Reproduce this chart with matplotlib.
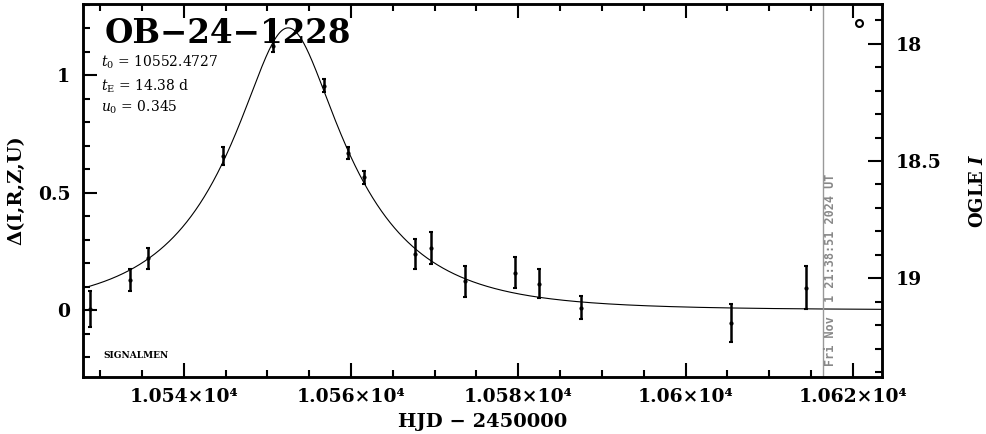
import numpy as np
import matplotlib
matplotlib.use("Agg")
import matplotlib.pyplot as plt
from matplotlib.ticker import MultipleLocator, FuncFormatter

# event / fit parameters as printed on the chart
event_name = "OB\u221224\u22121228"
t0 = 10552.4727
tE = 14.38
u0 = 0.345
I_base = 19.135

# OGLE points: HJD-2450000, delta mag, error
hjd = [10528.8, 10533.5, 10535.7, 10544.7, 10550.6, 10556.7, 10559.6, 10561.6,
       10567.6, 10569.6, 10573.6, 10579.6, 10582.5, 10587.5, 10605.5, 10614.4]
dmag = [0.005, 0.128, 0.22, 0.656, 1.125, 0.955, 0.669, 0.566,
        0.24, 0.265, 0.122, 0.159, 0.113, 0.01, -0.054, 0.095]
dmag_err = [0.076, 0.047, 0.045, 0.039, 0.025, 0.028, 0.027, 0.028,
            0.064, 0.067, 0.065, 0.066, 0.06, 0.049, 0.08, 0.092]

now_hjd = 10616.4
now_label = "Fri Nov  1 21:38:51 2024 UT"
flag_hjd = 10620.7
flag_dmag = 1.223


def pacz_dmag(t):
  u = np.sqrt(u0**2 + ((t - t0) / tE)**2)
  A = (u**2 + 2) / (u * np.sqrt(u**2 + 4))
  return 2.5 * np.log10(A)


def main():
  plt.rcParams['font.family'] = ['DejaVu Serif']
  plt.rcParams['font.weight'] = 'bold'
  plt.rcParams['axes.labelweight'] = 'bold'
  # plain (non-bold) math for the fit parameters
  plt.rcParams['mathtext.fontset'] = 'custom'
  plt.rcParams['mathtext.rm'] = 'DejaVu Serif:weight=normal'
  plt.rcParams['mathtext.it'] = 'DejaVu Serif:italic:weight=normal'
  plt.rcParams['mathtext.bf'] = 'DejaVu Serif:weight=bold'

  fig = plt.figure(figsize=(9.86, 4.34), dpi=100)
  ax = fig.add_axes([0.0839, 0.132, 0.8106, 0.8588])

  xlo, xhi = 10527.9, 10623.5
  ylo, yhi = -0.284, 1.304

  tt = np.linspace(xlo, xhi, 2000)
  ax.plot(tt, pacz_dmag(tt), color='k', lw=0.8)

  ax.errorbar(hjd, dmag, yerr=dmag_err, fmt='o', ms=2, color='k',
              elinewidth=1.8, capsize=1.5, capthick=1.5)

  ax.plot([flag_hjd], [flag_dmag], 'o', mfc='white', mec='k', mew=1.5, ms=5)

  ax.axvline(now_hjd, color='#999999', lw=1.0)
  ax.text(now_hjd + 1.0, 0.029, now_label, transform=ax.get_xaxis_transform(),
          rotation=90, ha='center', va='bottom', color='#888888',
          fontsize=8.5, family='DejaVu Sans Mono', fontweight='bold')

  ax.set_xlim(xlo, xhi)
  ax.set_ylim(ylo, yhi)

  ax.xaxis.set_major_locator(MultipleLocator(20))
  ax.xaxis.set_minor_locator(MultipleLocator(5))
  ax.xaxis.set_major_formatter(FuncFormatter(lambda v, p: "%g\u00d710\u2074" % (v / 1e4)))
  ax.yaxis.set_major_locator(MultipleLocator(0.5))
  ax.yaxis.set_minor_locator(MultipleLocator(0.1))
  ax.yaxis.set_major_formatter(FuncFormatter(lambda v, p: "%g" % v))

  ax.tick_params(which='both', direction='in', top=True, right=False, labelsize=13.5)
  ax.tick_params(which='major', length=10, width=1.5)
  ax.tick_params(which='minor', length=5, width=1.5)
  ax.tick_params(axis='y', pad=9)
  ax.tick_params(axis='x', pad=8)
  for s in ax.spines.values():
    s.set_linewidth(1.8)

  ax.set_xlabel("HJD \u2212 2450000", fontsize=14, labelpad=5)
  ax.set_ylabel("\u0394(I,R,Z,U)", fontsize=14, labelpad=9)

  ax2 = ax.twinx()
  ax2.set_ylim(I_base - ylo, I_base - yhi)
  ax2.yaxis.set_major_locator(MultipleLocator(0.5))
  ax2.yaxis.set_minor_locator(MultipleLocator(0.1))
  ax2.yaxis.set_major_formatter(FuncFormatter(lambda v, p: "%g" % v))
  ax2.tick_params(which='both', direction='in', labelsize=13.5, pad=10)
  ax2.tick_params(which='major', length=10, width=1.5)
  ax2.tick_params(which='minor', length=5, width=1.5)
  ax2.set_ylabel(r"OGLE $I$", fontsize=13, labelpad=20, math_fontfamily='dejavuserif')
  for s in ax2.spines.values():
    s.set_linewidth(1.8)

  ax.text(0.027, 0.895, event_name, transform=ax.transAxes, fontsize=23.5,
          va='baseline', ha='left')
  ax.text(0.0225, 0.832, r"$t_0$ = 10552.4727", transform=ax.transAxes,
          fontsize=10, fontweight='normal', va='baseline')
  ax.text(0.0225, 0.768, r"$t_{\rm E}$ = 14.38 d", transform=ax.transAxes,
          fontsize=10, fontweight='normal', va='baseline')
  ax.text(0.0225, 0.711, r"$u_0$ = 0.345", transform=ax.transAxes,
          fontsize=10, fontweight='normal', va='baseline')
  ax.text(0.0258, 0.049, "SIGNALMEN", transform=ax.transAxes, fontsize=6.5,
          va='baseline')

  fig.savefig("out.png", dpi=100)


if __name__ == "__main__":
  main()
